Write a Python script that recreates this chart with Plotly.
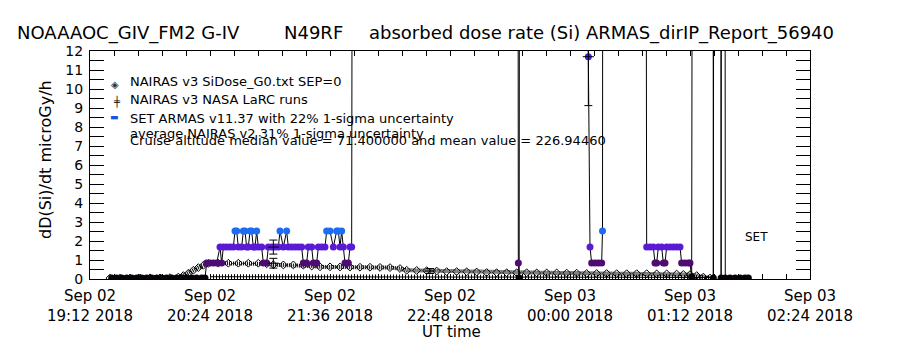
import plotly.graph_objects as go
import pandas as pd

# ---------------- data ----------------
# SET ARMAS dose rate samples (UT clock time, microGy/h); 60 = off-scale spikes
set_times = [
    "19:25", "19:28", "19:31", "19:34", "19:37", "19:40", "19:43", "19:46", "19:49", "19:52",
    "19:55", "19:58", "20:01", "20:04", "20:07", "20:10", "20:13", "20:16", "20:19", "20:21",
    "20:22", "20:24", "20:26", "20:28", "20:30", "20:31", "20:32", "20:34", "20:36", "20:38",
    "20:39", "20:40", "20:41", "20:43", "20:44", "20:45", "20:46", "20:47", "20:48", "20:49",
    "20:50", "20:51", "20:52", "20:53", "20:55", "20:56", "20:58", "20:59", "21:01", "21:03",
    "21:05", "21:06", "21:08", "21:10", "21:11", "21:13", "21:15", "21:17", "21:19", "21:20",
    "21:22", "21:23", "21:25", "21:26", "21:28", "21:29", "21:31", "21:33", "21:34", "21:36",
    "21:38", "21:40", "21:41", "21:42", "21:43", "21:44", "21:45", "21:47", "21:48", "21:49",
    "21:50", "23:28:30", "23:29:00", "23:29:30", "23:30:00", "00:10", "00:11", "00:12", "00:13",
    "00:15", "00:17", "00:19", "00:19:30", "00:20", "00:45", "00:46", "00:48", "00:50", "00:51",
    "00:52", "00:53", "00:55", "00:56", "00:57", "00:58", "01:00", "01:02", "01:04", "01:06",
    "01:07", "01:09", "01:11", "01:12", "01:13", "01:14", "01:25:40", "01:26:00", "01:26:40",
    "01:30:20", "01:30:40", "01:31:00", "01:32:50", "01:33:10", "01:36", "01:39", "01:42",
    "01:45", "01:47",
]
set_values = [
    0.05, 0.05, 0.05, 0.05, 0.05, 0.05, 0.05, 0.05, 0.05, 0.05,
    0.05, 0.05, 0.05, 0.05, 0.05, 0.05, 0.05, 0.05, 0.05, 0.05,
    0.84, 0.84, 0.84, 0.84, 1.68, 0.84, 1.68, 1.68, 1.68, 1.68,
    2.52, 2.52, 1.68, 1.68, 2.52, 2.52, 1.68, 1.68, 2.52, 2.52,
    1.68, 1.68, 2.52, 1.68, 1.68, 0.84, 0.84, 1.68, 1.68, 1.68,
    1.68, 2.52, 1.68, 2.52, 1.68, 1.68, 1.68, 1.68, 1.68, 0.84,
    0.84, 1.68, 1.68, 0.84, 0.84, 1.68, 1.68, 1.68, 2.52, 2.52,
    1.68, 2.52, 2.52, 1.68, 2.52, 1.68, 0.84, 0.84, 1.68, 1.68,
    60, 60, 0.84, 0.05, 60, 60, 11.7, 1.68, 0.84,
    0.84, 0.84, 0.84, 2.52, 60, 60, 1.68, 1.68, 1.68, 0.84,
    0.84, 1.68, 1.68, 0.84, 0.84, 1.68, 1.68, 1.68, 1.68, 1.68,
    0.84, 0.84, 0.84, 0.84, 0.1, 60, 60, 0.05, 60,
    60, 0.05, 60, 60, 0.05, 0.05, 0.05, 0.05,
    0.05, 0.05,
]

# NAIRAS v3 SiDose_G0 (diamonds)
nairas_times = [
    "19:24", "19:30", "19:36", "19:42", "19:48", "19:54", "20:00", "20:05", "20:08", "20:11",
    "20:14", "20:17", "20:20", "20:23", "20:29", "20:35", "20:41", "20:47", "20:53", "20:58",
    "21:02", "21:08", "21:14", "21:20", "21:25", "21:30", "21:36", "21:42", "21:48", "21:54",
    "22:00", "22:06", "22:12", "22:18", "22:22", "22:28", "22:34", "22:40", "22:46", "22:52",
    "22:58", "23:04", "23:10", "23:16", "23:22", "23:28", "23:34", "23:40", "23:46", "23:52",
    "23:58", "00:04", "00:10", "00:16", "00:22", "00:28", "00:34", "00:40", "00:46", "00:52",
    "00:58", "01:04", "01:08", "01:12", "01:16", "01:20", "01:24",
]
nairas_values = [
    0.05, 0.05, 0.05, 0.05, 0.06, 0.06, 0.07, 0.10, 0.18, 0.30,
    0.46, 0.60, 0.72, 0.82, 0.83, 0.83, 0.83, 0.83, 0.83, 0.80,
    0.75, 0.74, 0.74, 0.73, 0.68, 0.64, 0.64, 0.63, 0.63, 0.62,
    0.62, 0.61, 0.60, 0.55, 0.46, 0.45, 0.44, 0.42, 0.39, 0.39,
    0.38, 0.37, 0.34, 0.33, 0.33, 0.33, 0.33, 0.32, 0.32, 0.32,
    0.31, 0.31, 0.29, 0.29, 0.29, 0.28, 0.28, 0.28, 0.28, 0.27,
    0.27, 0.26, 0.24, 0.23, 0.18, 0.10, 0.05,
]

# NAIRAS v3 NASA LaRC runs (+)
larc_times = ["20:24", "20:48", "21:12", "21:36", "22:00", "22:24", "22:48", "23:12",
              "23:36", "00:00", "00:24", "00:48", "01:12", "01:24"]
larc_values = [0.12, 0.12, 0.12, 0.11, 0.11, 0.11, 0.10, 0.10,
               0.10, 0.10, 0.09, 0.09, 0.08, 0.08]

# representative 1-sigma uncertainty bars
err_times = ["21:02", "21:02", "22:36", "00:11"]
err_values = [1.68, 0.83, 0.42, 11.7]
err_percent = [22, 31, 31, 22]

y_tick_values = [i * 0.5 for i in range(25)]
y_tick_labels = [str(int(v)) if v == int(v) else "" for v in y_tick_values]

title_parts = ["NOAAAOC_GIV_FM2 G-IV", "N49RF", "absorbed dose rate (Si) ARMAS_dirIP_Report_56940"]
legend_lines = [
    "NAIRAS v3 SiDose_G0.txt SEP=0",
    "NAIRAS v3 NASA LaRC runs",
    "SET ARMAS v11.37 with 22% 1-sigma uncertainty",
    "average NAIRAS v2 31% 1-sigma uncertainty",
    "Cruise altitude median value = 71.400000 and mean value = 226.94460",
]


def ts(clock):
    hour = int(clock.split(":")[0])
    day = "2018-09-02" if hour >= 12 else "2018-09-03"
    if clock.count(":") == 1:
        clock += ":00"
    return f"{day} {clock}"


FONT = "DejaVu Sans"
L, R, T, B = 90, 90, 51, 71
W, H = 900, 350
PW, PH = W - L - R, H - T - B


def px(x, y):
    return (x - L) / PW, (H - B - y) / PH


fig = go.Figure()

# NAIRAS SiDose (hatched chain of diamonds)
fig.add_trace(go.Scatter(
    x=[ts(t) for t in nairas_times], y=nairas_values, mode="lines",
    line=dict(color="#000000", width=4, dash="1px,1px"), hoverinfo="skip", showlegend=False))
fig.add_trace(go.Scatter(
    x=[ts(t) for t in nairas_times], y=nairas_values, mode="markers",
    marker=dict(symbol="diamond-open", size=6, color="#000000", line=dict(width=1)),
    showlegend=False))

# NASA LaRC (+ symbols)
fig.add_trace(go.Scatter(
    x=[ts(t) for t in larc_times], y=larc_values, mode="lines",
    line=dict(color="#000000", width=1), showlegend=False))
fig.add_trace(go.Scatter(
    x=[ts(t) for t in larc_times], y=larc_values, mode="lines",
    line=dict(color="#000000", width=5, dash="1px,2px"), hoverinfo="skip", showlegend=False))

# SET ARMAS
fig.add_trace(go.Scatter(
    x=[ts(t) for t in set_times], y=set_values, mode="lines+markers",
    line=dict(color="#000000", width=1),
    marker=dict(size=7, color=set_values, cmin=0, cmax=12,
                colorscale=[[0, "#000000"], [0.07, "#4e0c72"], [0.14, "#5a1ad6"],
                            [0.21, "#1c6cf4"], [1, "#3c22e2"]],
                line=dict(width=0)),
    showlegend=False))

# uncertainty bars
fig.add_trace(go.Scatter(
    x=[ts(t) for t in err_times], y=err_values, mode="markers",
    marker=dict(symbol="line-ew-open", size=8, color="#000000", line=dict(width=1, color="#000000")),
    error_y=dict(type="data", array=[v * p / 100 for v, p in zip(err_values, err_percent)],
                 color="#000000", thickness=1, width=4),
    showlegend=False))

# x ticks every 14.4 minutes, labels every 72 minutes
start = pd.Timestamp("2018-09-02 19:12:00")
xticks = [start + pd.Timedelta(seconds=864 * i) for i in range(31)]
xtickvals = [t.strftime("%Y-%m-%d %H:%M:%S") for t in xticks]
xticktext = [t.strftime("%b %d") + "<br>" + t.strftime("%H:%M %Y") if i % 5 == 0 else ""
             for i, t in enumerate(xticks)]

fig.update_layout(
    width=W, height=H,
    margin=dict(l=L, r=R, t=T, b=B, pad=0),
    paper_bgcolor="white", plot_bgcolor="white",
    font=dict(family=FONT, color="#000000"),
    showlegend=False,
    xaxis=dict(
        type="date",
        range=["2018-09-02 19:11:59.9", "2018-09-03 02:24:00.1"],
        tickvals=xtickvals, ticktext=xticktext,
        ticks="inside", ticklen=5, tickcolor="#000000", tickwidth=1,
        showline=True, linecolor="#000000", linewidth=1, mirror="ticks",
        showgrid=False, zeroline=False, tickangle=0,
        tickfont=dict(family=FONT, size=15, color="#000000"),
        ticklabelstandoff=3,
    ),
    yaxis=dict(
        range=[0, 12],
        tickvals=y_tick_values, ticktext=y_tick_labels,
        ticks="inside", ticklen=14, tickcolor="#000000", tickwidth=1,
        showline=True, linecolor="#000000", linewidth=1, mirror="ticks",
        showgrid=False, zeroline=False,
        tickfont=dict(family=FONT, size=14, color="#000000"),
        ticklabelstandoff=3,
    ),
)

ann = []
# title pieces
for text, x0 in zip(title_parts, [15, 282, 367]):
    ax, ay = px(x0, 33)
    ann.append(dict(text=text.replace(" ", "\u00a0"), x=ax, y=ay, xref="paper", yref="paper",
                    xanchor="left", yanchor="middle", showarrow=False,
                    font=dict(family=FONT, size=18, color="#000000")))
# axis titles
ax, ay = px(45, 160)
ann.append(dict(text="dD(Si)/dt microGy/h", x=ax, y=ay, xref="paper", yref="paper",
                textangle=-90, xanchor="center", yanchor="middle", showarrow=False,
                font=dict(family=FONT, size=16, color="#000000")))
ax, ay = px(451, 332)
ann.append(dict(text="UT time", x=ax, y=ay, xref="paper", yref="paper",
                xanchor="center", yanchor="middle", showarrow=False,
                font=dict(family=FONT, size=15, color="#000000")))
# legend text
for text, yc in zip(legend_lines, [81, 99, 118, 133, 140]):
    ax, ay = px(128, yc)
    ann.append(dict(text=text, x=ax, y=ay, xref="paper", yref="paper",
                    xanchor="left", yanchor="middle", showarrow=False,
                    font=dict(family=FONT, size=13, color="#000000")))
# legend symbols
for sym, col, size, (sx, sy) in [("◈", "#333333", 10, (115, 84)),
                                 ("╪", "#000000", 10, (117, 101)),
                                 ("▬", "#1a50e6", 9, (114, 117))]:
    ax, ay = px(sx, sy)
    ann.append(dict(text=sym, x=ax, y=ay, xref="paper", yref="paper",
                    xanchor="center", yanchor="middle", showarrow=False,
                    font=dict(family=FONT, size=size, color=col)))
# SET label
ax, ay = px(756, 237)
ann.append(dict(text="SET", x=ax, y=ay, xref="paper", yref="paper",
                xanchor="center", yanchor="middle", showarrow=False,
                font=dict(family=FONT, size=12, color="#000000")))

fig.update_layout(annotations=ann)
fig.write_html("out.html")
